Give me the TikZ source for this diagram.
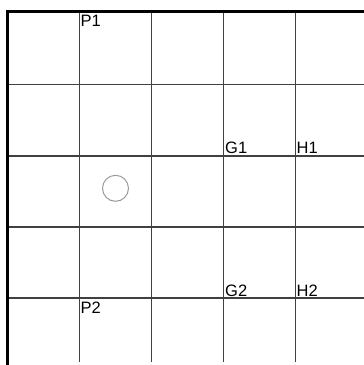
\documentclass[tikz,border=0pt]{standalone}
\usepackage{fontspec}
\setmainfont{Liberation Sans}
\begin{document}
\begin{tikzpicture}[x=1pt,y=-1pt,
  gridline/.style={draw=black!75,line width=1.1pt},
  border/.style={draw=black,line width=3.2pt},
  lbl/.style={inner sep=0pt,anchor=base west,font=\fontsize{16.5}{17}\selectfont},
  ring/.style={circle,draw=black!40,line width=1pt,minimum size=26pt,inner sep=0pt}]
\useasboundingbox (0,0) rectangle (364,365);
% vertical grid lines
\foreach \x in {79.5,151.5,223.5,295.5}
  \draw[gridline] (\x,11.7) -- (\x,362);
% horizontal grid lines
\foreach \y in {84.5,156,227,298}
  \draw[gridline] (7.5,\y) -- (364,\y);
% thick borders
\draw[border] (7.5,365) -- (7.5,11.7) -- (364,11.7);
% labels
\node[lbl] (p1) at (80.5,26.5) {P1};
\node[lbl] (g1) at (225,153.5) {G1};
\node[lbl] (h1) at (296.5,153.5) {H1};
\node[lbl] (g2) at (225,296) {G2};
\node[lbl] (h2) at (296.5,296) {H2};
\node[lbl] (p2) at (80.5,313.3) {P2};
\node[ring] (c) at (115.5,188.3) {};
\end{tikzpicture}
\end{document}
